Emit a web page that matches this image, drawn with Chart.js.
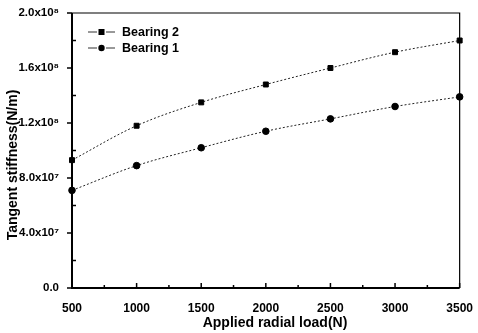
<!DOCTYPE html>
<html>
<head>
<meta charset="utf-8">
<script src="https://cdn.jsdelivr.net/npm/chart.js@4"></script>
<style>
  html, body { margin: 0; padding: 0; background: #fff; }
  #wrap { width: 478px; height: 333px; }
</style>
</head>
<body>
<div id="wrap"><canvas id="stiffChart"></canvas></div>
<script>
// data
const loads = [500, 1000, 1500, 2000, 2500, 3000, 3500];
const bearing2 = [9.3e7, 1.18e8, 1.35e8, 1.48e8, 1.60e8, 1.715e8, 1.80e8];
const bearing1 = [7.1e7, 8.9e7, 1.02e8, 1.14e8, 1.23e8, 1.32e8, 1.39e8];
const yTickValues = [0, 4e7, 8e7, 1.2e8, 1.6e8, 2e8];
const yTickLabels = ['0.0', '4.0x10⁷', '8.0x10⁷', '1.2x10⁸', '1.6x10⁸', '2.0x10⁸'];

const FONT = 'Liberation Sans, Arial, sans-serif';

// frame, inward/outward ticks, axis titles and the inset legend
const framePlugin = {
    id: 'frame',
    afterDraw(chart) {
        const c = chart.ctx;
        const a = chart.chartArea;
        const x = chart.scales.x, y = chart.scales.y;
        c.save();
        c.strokeStyle = '#000';
        // top and right
        c.lineWidth = 1.2;
        c.beginPath();
        c.moveTo(a.left, a.top); c.lineTo(a.right, a.top); c.lineTo(a.right, a.bottom);
        c.stroke();
        // left and bottom
        c.lineWidth = 2;
        c.beginPath();
        c.moveTo(a.left, a.top); c.lineTo(a.left, a.bottom); c.lineTo(a.right, a.bottom);
        c.stroke();
        c.lineWidth = 1.5;
        // y ticks
        for (let v = 0; v <= 2e8; v += 2e7) {
            const py = y.getPixelForValue(v);
            const major = Math.round(v / 2e7) % 2 === 0;
            c.beginPath();
            if (major) { c.moveTo(a.left - 5, py); c.lineTo(a.left, py); }
            else { c.moveTo(a.left, py); c.lineTo(a.left + 4, py); }
            c.stroke();
        }
        // x ticks
        for (let v = 500; v <= 3500; v += 250) {
            const px = x.getPixelForValue(v);
            const major = (v % 500) === 0;
            c.beginPath();
            c.moveTo(px, a.bottom);
            c.lineTo(px, a.bottom - (major ? 5 : 3));
            c.stroke();
        }
        // axis titles
        c.fillStyle = '#000';
        c.font = 'bold 14px ' + FONT;
        c.textAlign = 'center';
        c.textBaseline = 'middle';
        c.fillText('Applied radial load(N)', 275, 323);
        c.save();
        c.translate(13, 165);
        c.rotate(-Math.PI / 2);
        c.fillText('Tangent stiffness(N/m)', 0, 0);
        c.restore();
        // legend
        const items = [
            { label: 'Bearing 2', style: 'rect' },
            { label: 'Bearing 1', style: 'circle' }
        ];
        c.font = 'bold 12.5px ' + FONT;
        c.textAlign = 'left';
        items.forEach((it, i) => {
            const ly = 32 + i * 16;
            const lx = 88;
            c.lineWidth = 1;
            c.strokeStyle = '#333';
            c.beginPath();
            c.moveTo(lx, ly); c.lineTo(lx + 9, ly);
            c.moveTo(lx + 18, ly); c.lineTo(lx + 27, ly);
            c.stroke();
            c.fillStyle = '#000';
            if (it.style === 'rect') {
                c.fillRect(lx + 10.5, ly - 3, 6, 6);
            } else {
                c.beginPath();
                c.arc(lx + 13.5, ly, 3.2, 0, Math.PI * 2);
                c.fill();
            }
            c.fillText(it.label, lx + 34, ly + 1);
        });
        c.restore();
    }
};

new Chart(document.getElementById('stiffChart'), {
    type: 'line',
    data: {
        datasets: [{
            label: 'Bearing 2',
            data: loads.map((l, i) => ({ x: l, y: bearing2[i] })),
            borderColor: '#222',
            borderWidth: 1,
            borderDash: [2, 2],
            pointStyle: 'rect',
            pointRadius: 3.5,
            pointBackgroundColor: '#000',
            pointBorderColor: '#000',
            tension: 0.35,
            clip: false
        }, {
            label: 'Bearing 1',
            data: loads.map((l, i) => ({ x: l, y: bearing1[i] })),
            borderColor: '#222',
            borderWidth: 1,
            borderDash: [2, 2],
            pointStyle: 'circle',
            pointRadius: 3.3,
            pointBackgroundColor: '#000',
            pointBorderColor: '#000',
            tension: 0.35,
            clip: false
        }]
    },
    options: {
        responsive: true,
        maintainAspectRatio: false,
        animation: false,
        layout: { padding: { left: 0, top: 13, right: 13, bottom: 0 } },
        plugins: {
            legend: { display: false },
            tooltip: { enabled: false }
        },
        scales: {
            x: {
                type: 'linear',
                min: 500,
                max: 3500,
                grid: { display: false },
                border: { display: false },
                ticks: {
                    stepSize: 500,
                    color: '#000',
                    padding: 5,
                    maxRotation: 0,
                    font: { family: FONT, size: 12, weight: 'bold' },
                    callback(v) { return String(v); }
                },
                afterFit(s) { s.height = 45; }
            },
            y: {
                min: 0,
                max: 2e8,
                grid: { display: false },
                border: { display: false },
                afterBuildTicks(s) { s.ticks = yTickValues.map(v => ({ value: v })); },
                ticks: {
                    color: '#000',
                    padding: 5,
                    font: { family: FONT, size: 11.5, weight: 'bold' },
                    callback(v) {
                        const i = yTickValues.indexOf(v);
                        return i >= 0 ? yTickLabels[i] : '';
                    }
                },
                afterFit(s) { s.width = 72; }
            }
        }
    },
    plugins: [framePlugin]
});
</script>
</body>
</html>
